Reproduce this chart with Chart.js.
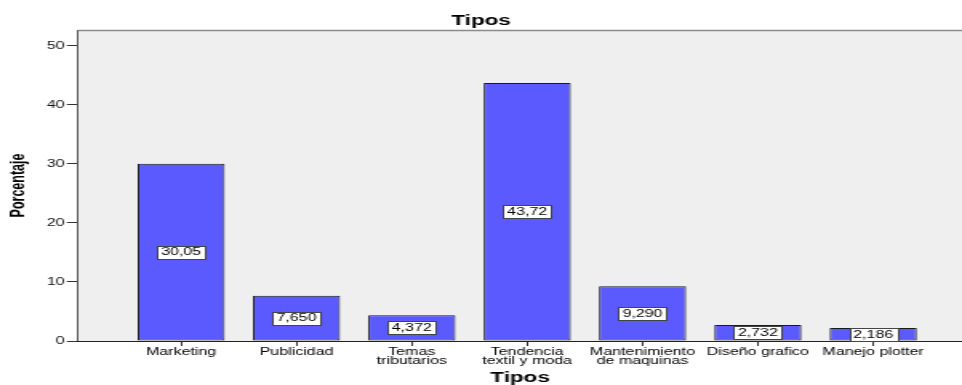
<!DOCTYPE html>
<html>
<head>
<meta charset="utf-8">
<script src="https://cdn.jsdelivr.net/npm/chart.js@4.4.1/dist/chart.umd.min.js"></script>
<style>
  html, body { margin: 0; padding: 0; background: #fff; overflow: hidden; }
  /* the chart is drawn narrow and stretched sideways, like the exported SPSS graphic */
  #wrap { width: 601px; height: 385px; transform: scale(1.6007, 1); transform-origin: 0 0; }
</style>
</head>
<body>
<div id="wrap"><canvas id="c" width="601" height="385"></canvas></div>
<script>
// Categories (line breaks mark wrapped tick labels)
const categories = [
  'Marketing',
  'Publicidad',
  'Temas\ntributarios',
  'Tendencia\ntextil y moda',
  'Mantenimiento\nde maquinas',
  'Diseño grafico',
  'Manejo plotter'
];
// Percentage per category
const porcentaje = [30.05, 7.650, 4.372, 43.72, 9.290, 2.732, 2.186];
// Y axis tick values
const yTicks = [0, 10, 20, 30, 40, 50];
const chartTitle = 'Tipos';
const xTitle = 'Tipos';
const yTitle = 'Porcentaje';

const FONT = '"Liberation Sans", Arial, Helvetica, sans-serif';
Chart.defaults.font.family = FONT;
Chart.defaults.color = '#000';

// Grey plot background and top frame line
const plotFrame = {
  id: 'plotFrame',
  beforeDatasetsDraw(chart) {
    const { ctx, chartArea: a } = chart;
    ctx.save();
    ctx.fillStyle = '#efefef';
    ctx.fillRect(a.left, a.top, a.right - a.left, a.bottom - a.top);
    ctx.strokeStyle = '#8a8a8a';
    ctx.lineWidth = 1.6;
    ctx.beginPath();
    ctx.moveTo(a.left, a.top + 0.5);
    ctx.lineTo(a.right, a.top + 0.5);
    ctx.stroke();
    ctx.restore();
  }
};

// Boxed value label in the middle of each bar
const valueLabels = {
  id: 'valueLabels',
  afterDatasetsDraw(chart) {
    const { ctx } = chart;
    const meta = chart.getDatasetMeta(0);
    ctx.save();
    ctx.font = '10px ' + FONT;
    ctx.textAlign = 'center';
    ctx.textBaseline = 'middle';
    meta.data.forEach((bar, i) => {
      const txt = porcentaje[i].toPrecision(4).replace('.', ',');
      const cy = (bar.y + bar.base) / 2;
      const w = ctx.measureText(txt).width + 5;
      const h = 13;
      const x0 = Math.round(bar.x - w / 2) + 0.5;
      const y0 = Math.round(cy - h / 2) + 0.5;
      ctx.fillStyle = '#ffffff';
      ctx.fillRect(x0, y0, w, h);
      ctx.strokeStyle = '#444';
      ctx.lineWidth = 1;
      ctx.strokeRect(x0, y0, w, h);
      ctx.fillStyle = '#000';
      ctx.fillText(txt, bar.x, cy + 0.5);
    });
    ctx.restore();
  }
};

new Chart(document.getElementById('c'), {
  type: 'bar',
  data: {
    datasets: [{
      data: porcentaje.map((v, i) => ({ x: i, y: v })),
      backgroundColor: '#5a5aff',
      borderColor: '#1a1a1a',
      borderWidth: 1,
      borderSkipped: false,
      barPercentage: 0.755,
      categoryPercentage: 1
    }]
  },
  options: {
    responsive: false,
    animation: false,
    layout: { padding: 0 },
    plugins: {
      legend: { display: false },
      tooltip: { enabled: false },
      title: {
        display: true,
        text: chartTitle,
        color: '#000',
        font: { size: 14, weight: 'bold', lineHeight: 1.2 },
        padding: { top: 12.6, bottom: 0.6 }
      }
    },
    scales: {
      x: {
        type: 'linear',
        offset: false,
        min: -0.894,
        max: 6.77,
        afterBuildTicks: s => { s.ticks = categories.map((c, i) => ({ value: i })); },
        afterFit: s => { s.height = 44; },
        grid: { offset: false, drawOnChartArea: false, drawTicks: true, tickLength: 5, color: '#333' },
        border: { display: true, color: '#222', width: 1 },
        ticks: {
          autoSkip: false, maxRotation: 0, minRotation: 0, padding: 1.5,
          color: '#000',
          font: { size: 10, lineHeight: 0.9 },
          callback: v => (categories[v] !== undefined ? categories[v].split('\n') : '')
        },
        title: {
          display: true, text: xTitle, color: '#000',
          font: { size: 14, weight: 'bold', lineHeight: 1 },
          padding: { top: 0, bottom: 0 }
        }
      },
      y: {
        min: 0,
        max: 52.7,
        afterBuildTicks: s => { s.ticks = yTicks.map(v => ({ value: v })); },
        afterFit: s => { s.width = 48.75; },
        grid: { drawOnChartArea: false, drawTicks: true, tickLength: 7, color: '#333' },
        border: { display: true, color: '#222', width: 1 },
        ticks: { color: '#111', padding: 1.5, font: { size: 10 } },
        title: {
          display: true, text: yTitle, color: '#000',
          font: { size: 12.5, weight: 'bold', lineHeight: 1 },
          padding: { top: 5, bottom: 0 }
        }
      }
    }
  },
  plugins: [plotFrame, valueLabels]
});
</script>
</body>
</html>
